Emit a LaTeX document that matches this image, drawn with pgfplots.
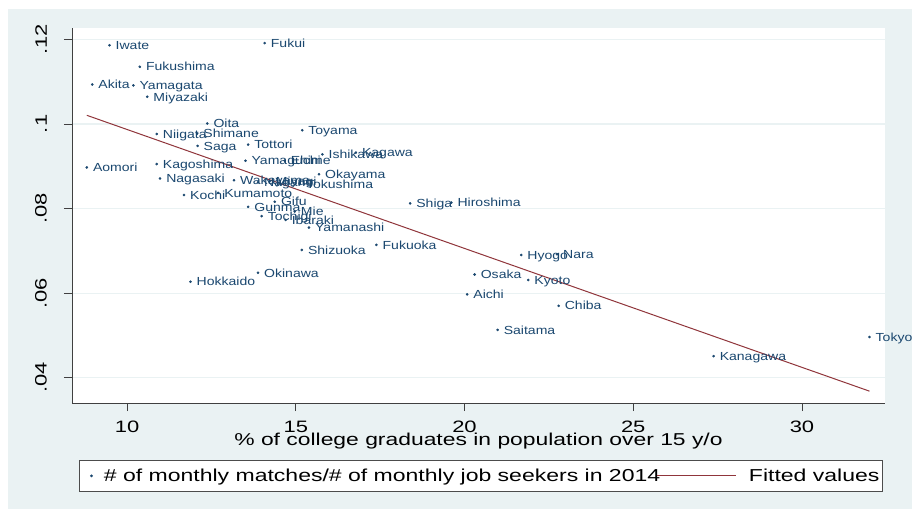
\documentclass[border=0pt]{standalone}
\usepackage{pgfplots}
\pgfplotsset{compat=1.18}
\usepackage{pgfplotstable}
\usepackage{fontspec}
\setmainfont{Liberation Sans}[FakeStretch=1.33]
\newfontfamily\labelfont{Liberation Sans}[FakeStretch=1.2]
\definecolor{stbg}{RGB}{234,242,243}
\definecolor{stnavy}{RGB}{26,71,111}
\definecolor{stmaroon}{RGB}{144,53,59}
\pgfplotstableread{
x y name
9.48 0.1186 Iwate
14.08 0.1191 Fukui
10.38 0.1135 Fukushima
8.97 0.1093 Akita
10.19 0.1091 Yamagata
10.60 0.1064 Miyazaki
12.38 0.1001 Oita
10.88 0.0976 Niigata
12.08 0.0977 Shimane
12.09 0.0948 Saga
13.59 0.0951 Tottori
15.19 0.0985 Toyama
8.81 0.0897 Aomori
10.88 0.0905 Kagoshima
10.98 0.0871 Nagasaki
11.69 0.0832 Kochi
12.70 0.0837 Kumamoto
13.51 0.0913 Yamaguchi
14.67 0.0913 Ehime
15.79 0.0928 Ishikawa
16.78 0.0932 Kagawa
15.69 0.0881 Okayama
15.12 0.0858 Tokushima
13.17 0.0867 Wakayama
13.88 0.0862 Nagano
14.23 0.0865 Miyagi
14.38 0.0816 Gifu
13.59 0.0804 Gunma
14.97 0.0793 Mie
13.99 0.0782 Tochigi
14.70 0.0773 Ibaraki
15.39 0.0755 Yamanashi
15.18 0.0702 Shizuoka
17.39 0.0714 Fukuoka
18.39 0.0812 Shiga
19.61 0.0814 Hiroshima
13.88 0.0648 Okinawa
11.88 0.0627 Hokkaido
21.68 0.0690 Hyogo
22.74 0.0692 Nara
20.30 0.0644 Osaka
21.89 0.0631 Kyoto
20.08 0.0597 Aichi
22.79 0.0570 Chiba
20.98 0.0513 Saitama
27.38 0.0451 Kanagawa
32.00 0.0496 Tokyo
}\prefdata
\begin{document}
\begin{tikzpicture}
\useasboundingbox (-72pt,-106pt) rectangle (840pt,403pt);
\clip (-72pt,-106pt) rectangle (840pt,403pt);
\fill[white] (-72pt,-106pt) rectangle (840pt,403pt);
\fill[stbg] (-64pt,-106pt) rectangle (840pt,394pt);
\begin{axis}[
  at={(0pt,0pt)}, anchor=south west,
  scale only axis, width=813pt, height=375pt,
  xmin=8.37, xmax=32.46, ymin=0.03402, ymax=0.12267,
  axis x line*=bottom, axis y line*=left,
  axis line style={black!75, line width=0.8pt},
  tick align=outside, major tick length=8pt,
  tick style={black!75, line width=0.8pt},
  xtick={10,15,20,25,30}, xticklabels={10,15,20,25,30},
  ytick={0.04,0.06,0.08,0.1,0.12}, yticklabels={.04,.06,.08,.1,.12},
  ticklabel style={font=\fontsize{16.5}{19}\selectfont, inner sep=0pt},
  yticklabel style={rotate=90, anchor=south},
  xticklabel style={anchor=north},
  yticklabel shift=17pt,
  xticklabel shift=9.5pt,
  ymajorgrids, grid style={stbg, line width=1.2pt},
  axis background/.style={fill=white},
  xlabel={\% of college graduates in population over 15 y/o},
  xlabel style={at={(axis description cs:0.5,-0.112)}, anchor=base, font=\fontsize{17.2}{20}\selectfont, inner sep=0pt},
  clip=false,
  legend columns=2,
  legend style={at={(axis description cs:0.0086,-0.152)}, anchor=north west,
    draw=black!70, line width=0.8pt, fill=white, inner xsep=3pt, inner ysep=8.5pt,
    column sep=0pt, font=\fontsize{17.3}{20}\selectfont, nodes={inner sep=0pt}},
]
\addplot[only marks, mark=*, mark size=1.1pt, color=stnavy,
  point meta=explicit symbolic,
  nodes near coords,
  nodes near coords style={anchor=base west, xshift=6pt, yshift=-4.2pt, inner sep=0pt, text=stnavy, font=\labelfont\fontsize{11.7}{14}\selectfont},
  legend image code/.code={\fill[stnavy] (0pt,0pt) circle (1pt); \path (-8.7pt,0pt) (12pt,0pt);}
] table[x=x, y=y, meta=name] {\prefdata};
\addlegendentry{\# of monthly matches/\# of monthly job seekers in 2014}
\addplot[stmaroon, line width=1pt, no marks,
  legend image code/.code={\draw[overlay, stmaroon, line width=1pt] (-4pt,0pt) -- (75pt,0pt); \path (0pt,0pt) (87.7pt,0pt);}
] coordinates {(8.81,0.10203) (32.00,0.03682)};
\addlegendentry{Fitted values}
\end{axis}
\end{tikzpicture}
\end{document}
